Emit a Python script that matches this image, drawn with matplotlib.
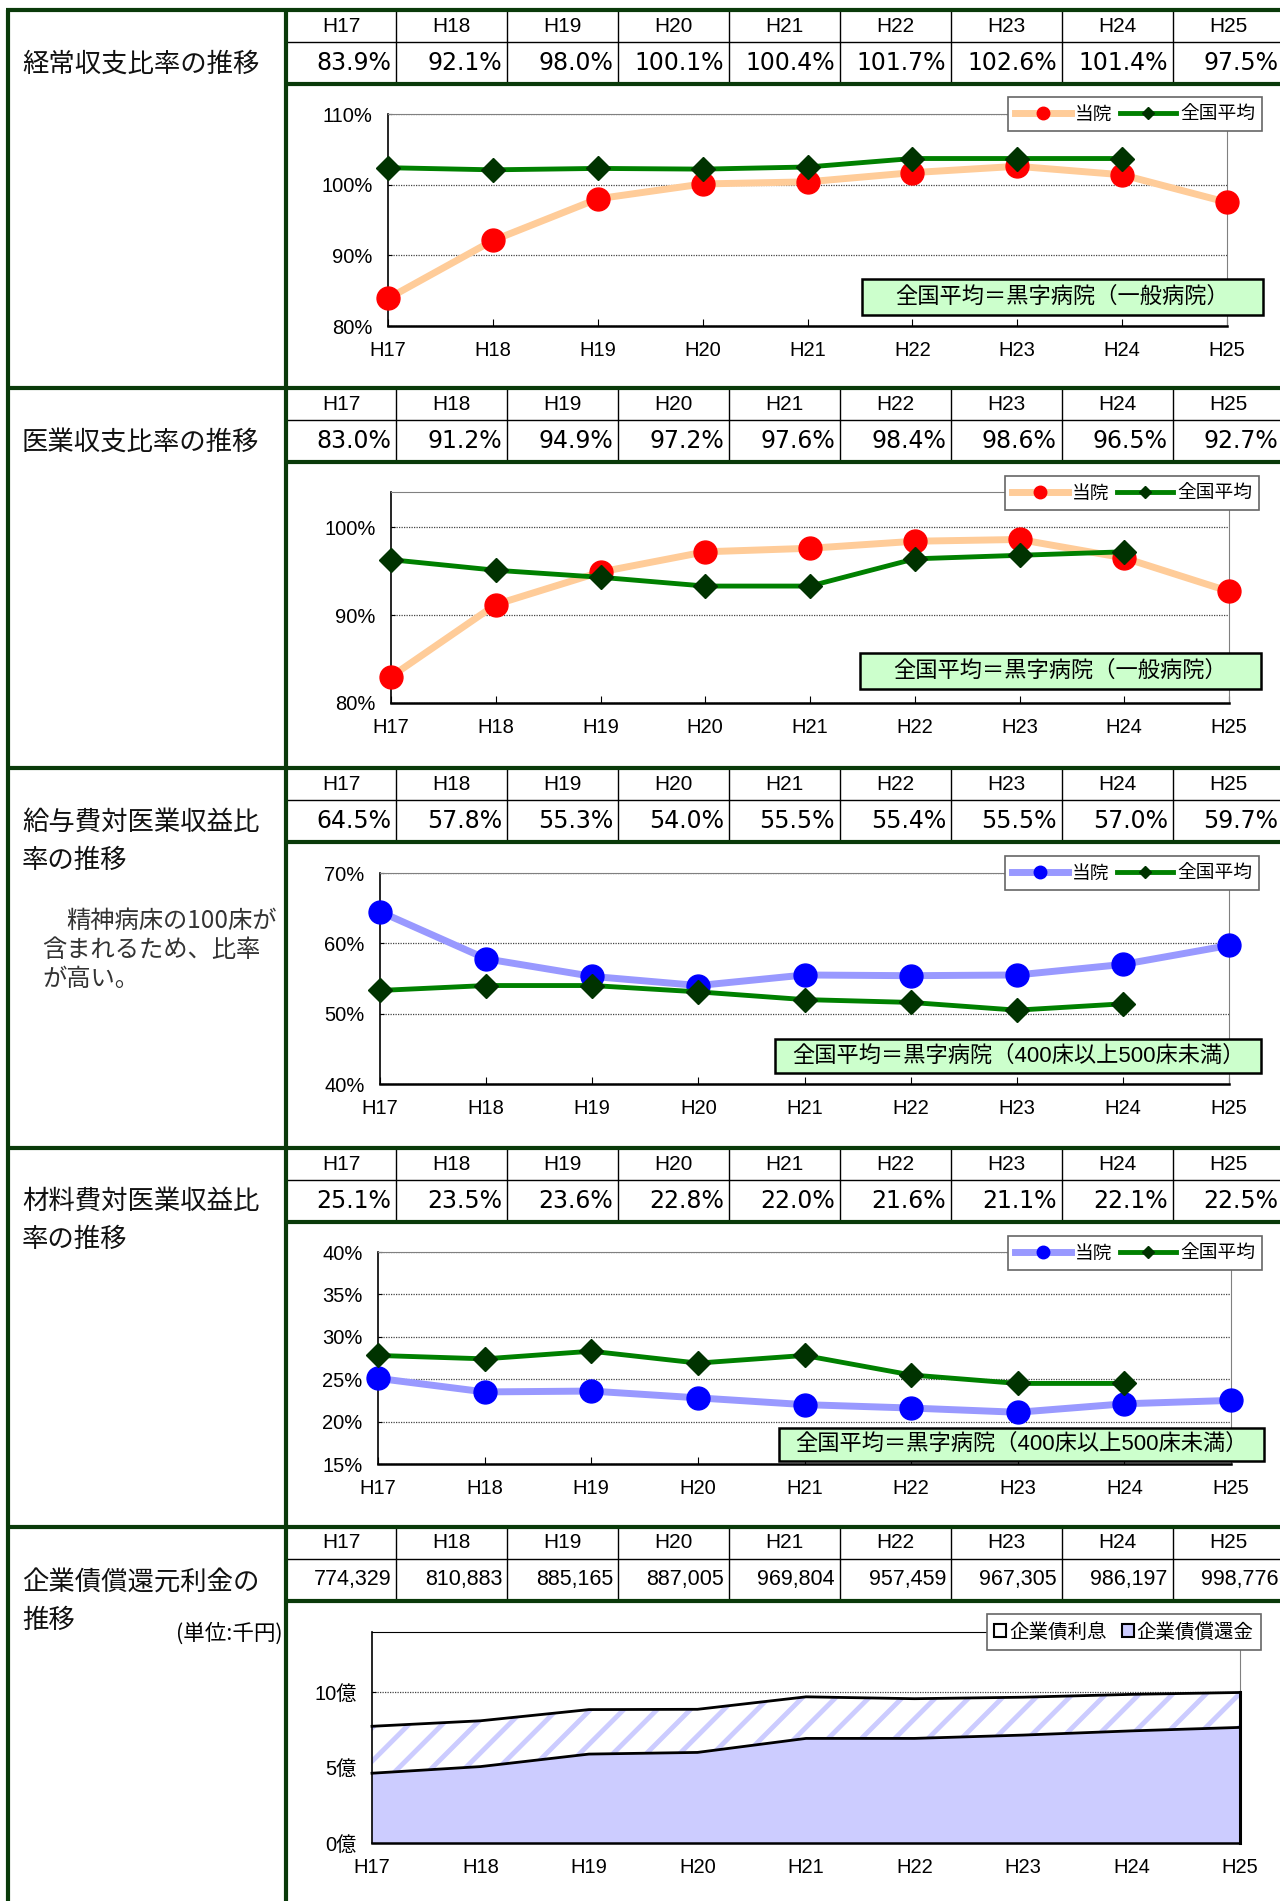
import numpy as np
import matplotlib
matplotlib.use("Agg")
import matplotlib.pyplot as plt
from matplotlib.lines import Line2D
from matplotlib.patches import Rectangle, Patch

plt.rcParams['font.family'] = ['Liberation Sans', 'Noto Sans CJK JP']
plt.rcParams['hatch.linewidth'] = 3.5

W, H = 1280, 1901
GREEN_BORDER = '#0A3A0A'
CJK = ['Noto Sans CJK JP']

YEARS = ["H17", "H18", "H19", "H20", "H21", "H22", "H23", "H24", "H25"]

# 経常収支比率 (%)
keijo_touin = [83.9, 92.1, 98.0, 100.1, 100.4, 101.7, 102.6, 101.4, 97.5]
keijo_zenkoku = [102.4, 102.1, 102.3, 102.2, 102.5, 103.7, 103.7, 103.7]
# 医業収支比率 (%)
iryo_touin = [83.0, 91.2, 94.9, 97.2, 97.6, 98.4, 98.6, 96.5, 92.7]
iryo_zenkoku = [96.3, 95.1, 94.3, 93.3, 93.3, 96.4, 96.8, 97.2]
# 給与費対医業収益比率 (%)
kyuyo_touin = [64.5, 57.8, 55.3, 54.0, 55.5, 55.4, 55.5, 57.0, 59.7]
kyuyo_zenkoku = [53.3, 54.0, 54.0, 53.1, 52.0, 51.6, 50.5, 51.4]
# 材料費対医業収益比率 (%)
zairyo_touin = [25.1, 23.5, 23.6, 22.8, 22.0, 21.6, 21.1, 22.1, 22.5]
zairyo_zenkoku = [27.8, 27.4, 28.3, 26.9, 27.8, 25.5, 24.5, 24.5]
# 企業債償還元利金 (千円)
kisai_total = [774329, 810883, 885165, 887005, 969804, 957459, 967305, 986197, 998776]
kisai_shokan = [463000, 507000, 590000, 601000, 694000, 694000, 716000, 744000, 767000]  # 読み取り値

fig = plt.figure(figsize=(W / 100, H / 100), dpi=100)
fig.patch.set_facecolor('white')


def fx(x):
    return x / W


def fy(y):
    return 1 - y / H


def add_ax(x0, y0, x1, y1):
    return fig.add_axes([fx(x0), fy(y1), (x1 - x0) / W, (y1 - y0) / H])


def fig_line(x0, y0, x1, y1, lw=1.0, color='black'):
    fig.add_artist(Line2D([fx(x0), fx(x1)], [fy(y0), fy(y1)], lw=lw, color=color,
                          solid_capstyle='butt'))


# ---- table / frame ----
SEC_TOP = [10, 388, 768, 1148, 1527]
DIV = 285.5
CW = 110.9

sections = [
    (["経常収支比率の推移"], [64], [f"{v:.1f}%" for v in keijo_touin]),
    (["医業収支比率の推移"], [442], [f"{v:.1f}%" for v in iryo_touin]),
    (["給与費対医業収益比", "率の推移"], [822, 860], [f"{v:.1f}%" for v in kyuyo_touin]),
    (["材料費対医業収益比", "率の推移"], [1201, 1239], [f"{v:.1f}%" for v in zairyo_touin]),
    (["企業債償還元利金の", "推移"], [1583, 1620], [f"{v:,}" for v in kisai_total]),
]

for k, (titles, tys, vals) in enumerate(sections):
    t = SEC_TOP[k]
    for s, ty in zip(titles, tys):
        fig.text(fx(22), fy(ty), s, family=CJK, fontsize=19, va='center', ha='left', color='#111111')
    fig_line(DIV, t + 32, W, t + 32, lw=1.0)
    for i in range(1, 9):
        xb = DIV + i * CW
        fig_line(xb, t, xb, t + 74, lw=1.0)
    for i, (yr, v) in enumerate(zip(YEARS, vals)):
        cx = DIV + (i + 0.5) * CW
        fig.text(fx(cx), fy(t + 16), yr, fontsize=15, ha='center', va='center')
        if k < 4:
            fig.text(fx(DIV + (i + 1) * CW - 5), fy(t + 53), v, family='DejaVu Sans',
                     fontsize=17, ha='right', va='center')
        else:
            fig.text(fx(DIV + (i + 1) * CW - 5), fy(t + 53), v, fontsize=15.5,
                     ha='right', va='center')
    fig_line(DIV, t + 74, W, t + 74, lw=3, color=GREEN_BORDER)
    fig_line(6, t, W, t, lw=3, color=GREEN_BORDER)

fig_line(8, 10, 8, H, lw=3, color=GREEN_BORDER)
fig_line(DIV, 10, DIV, H, lw=3, color=GREEN_BORDER)

# notes in the left column
fig.text(fx(283), fy(1634), "(単位:千円)", family=CJK, fontsize=15.5, ha='right', va='center')
note_lines = [(66, 921, "精神病床の100床が"), (42, 950, "含まれるため、比率"), (42, 979, "が高い。")]
for nx, ny, s in note_lines:
    fig.text(fx(nx), fy(ny), s, family=CJK, fontsize=17.5, ha='left', va='center', color='#333333')


def style_axes(ax, ylim, yticks, ylabels):
    ax.set_xlim(0, 8)
    ax.set_ylim(*ylim)
    ax.set_xticks(range(9))
    ax.set_xticklabels(YEARS)
    ax.set_yticks(yticks)
    ax.set_yticklabels(ylabels)
    ax.tick_params(axis='x', direction='in', length=5, width=0.8, pad=11, labelsize=14.5)
    ax.tick_params(axis='y', direction='in', length=3, width=0.8, pad=11, labelsize=14.5)
    ax.spines['left'].set_linewidth(1.2)
    ax.spines['bottom'].set_linewidth(1.8)
    for s in ('top', 'right'):
        ax.spines[s].set_linewidth(0.8)
        ax.spines[s].set_color('#808080')
    ax.yaxis.grid(True, linestyle=(0, (1, 1)), linewidth=0.9, color='#444444')
    ax.set_axisbelow(True)


def line_chart(rect, touin, zenkoku, ylim, yticks, line_c, mark_c, leg_c, note_rect, note_text):
    ax = add_ax(*rect)
    style_axes(ax, ylim, yticks, [f"{v}%" for v in yticks])
    x = np.arange(len(YEARS))
    ax.plot(x, touin, color=line_c, lw=5, marker='o', ms=16.5, mfc=mark_c, mec=mark_c,
            clip_on=False, zorder=3)
    ax.plot(x[:len(zenkoku)], zenkoku, color='#008000', lw=3.5, marker='D', ms=12,
            mfc='#003300', mec='#003300', clip_on=False, zorder=4)
    handles = [Line2D([], [], color=line_c, lw=5, marker='o', ms=9, mfc=mark_c, mec=mark_c),
               Line2D([], [], color='#008000', lw=3.5, marker='D', ms=6, mfc='#003300', mec='#003300')]
    leg = ax.legend(handles, ['当院', '全国平均'], loc='center',
                    bbox_to_anchor=(fx(leg_c[0]), fy(leg_c[1])), bbox_transform=fig.transFigure,
                    ncol=2, fancybox=False, framealpha=1, edgecolor='#666666',
                    prop={'family': CJK, 'size': 13.5}, handlelength=3, handletextpad=0.2,
                    columnspacing=0.4, borderpad=0.35, borderaxespad=0)
    leg.get_frame().set_linewidth(1.2)
    leg.set_zorder(10)
    x0, y0, x1, y1 = note_rect
    fig.add_artist(Rectangle((fx(x0), fy(y1)), (x1 - x0) / W, (y1 - y0) / H,
                             transform=fig.transFigure, fc='#CCFFCC', ec='black', lw=1.8, zorder=5))
    fig.text(fx((x0 + x1) / 2), fy((y0 + y1) / 2), note_text, fontsize=16,
             ha='center', va='center', zorder=6)
    return ax


line_chart((388, 114, 1227, 326), keijo_touin, keijo_zenkoku, (80, 110), [80, 90, 100, 110],
           '#FFCC99', '#FF0000', (1135, 114), (862, 279, 1263, 315), "全国平均＝黒字病院（一般病院）")
line_chart((391, 492, 1229, 703), iryo_touin, iryo_zenkoku, (80, 104), [80, 90, 100],
           '#FFCC99', '#FF0000', (1132, 493), (860, 653, 1261, 689), "全国平均＝黒字病院（一般病院）")
line_chart((380, 873, 1229, 1084), kyuyo_touin, kyuyo_zenkoku, (40, 70), [40, 50, 60, 70],
           '#9999FF', '#0000FF', (1132, 873), (775, 1039, 1261, 1073),
           "全国平均＝黒字病院（400床以上500床未満）")
line_chart((378, 1252, 1231, 1464), zairyo_touin, zairyo_zenkoku, (15, 40), [15, 20, 25, 30, 35, 40],
           '#9999FF', '#0000FF', (1135, 1253), (779, 1428, 1264, 1461),
           "全国平均＝黒字病院（400床以上500床未満）")

# ---- 企業債償還元利金 (stacked area, 億円) ----
ax5 = add_ax(372, 1632, 1240, 1843)
style_axes(ax5, (0, 14), [0, 5, 10], ["0億", "5億", "10億"])
ax5.spines['top'].set_color('black')
x = np.arange(len(YEARS))
total = np.array(kisai_total) / 1e5
shokan = np.array(kisai_shokan) / 1e5
ax5.fill_between(x, 0, shokan, facecolor='#CCCCFF', lw=0, zorder=2)
ax5.fill_between(x, shokan, total, facecolor='white', edgecolor='#CCCCFF', hatch='/', lw=0, zorder=2)
ax5.plot(x, shokan, color='black', lw=2, zorder=3, clip_on=False)
ax5.plot(x, total, color='black', lw=2, zorder=3, clip_on=False)
ax5.plot([8, 8], [0, total[-1]], color='black', lw=2.2, zorder=3, clip_on=False)
h5 = [Patch(fc='white', ec='black', lw=1.5), Patch(fc='#CCCCFF', ec='black', lw=1.5)]
leg5 = ax5.legend(h5, ['企業債利息', '企業債償還金'], loc='center',
                  bbox_to_anchor=(fx(1124), fy(1632)), bbox_transform=fig.transFigure,
                  ncol=2, fancybox=False, framealpha=1, edgecolor='#666666',
                  prop={'family': CJK, 'size': 14}, handlelength=0.6, handleheight=0.6,
                  handletextpad=0.15, columnspacing=0.8, borderpad=0.4, borderaxespad=0)
leg5.get_frame().set_linewidth(1.2)

fig.savefig("out.png", dpi=100, facecolor='white')
